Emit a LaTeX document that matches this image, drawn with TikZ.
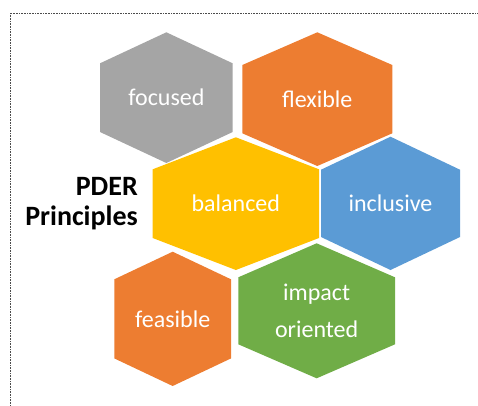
\documentclass[tikz,border=0pt]{standalone}
\usepackage{fontspec}
\setmainfont{Carlito}
\definecolor{hgray}{HTML}{A5A5A5}
\definecolor{horange}{HTML}{ED7D31}
\definecolor{hyellow}{HTML}{FFC000}
\definecolor{hblue}{HTML}{5B9BD5}
\definecolor{hgreen}{HTML}{70AD47}
\newcommand\hexshape[7]{%
  \fill[#2] ({(#3+#4)/2},#5) -- (#4,#5+#7) -- (#4,#6-#7) -- ({(#3+#4)/2},#6)
    -- (#3,#6-#7) -- (#3,#5+#7) -- cycle;
  \coordinate (#1) at ({(#3+#4)/2},{(#5+#6)/2});}
\begin{document}
\begin{tikzpicture}[x=1pt,y=-1pt,
  lbl/.style={text=white,font=\fontsize{24}{37}\selectfont,align=center,inner sep=0pt},
  frame/.style={densely dotted,draw=black!70,line width=0.6pt}]
\useasboundingbox (0,0) rectangle (478,405);
\clip (0,0) rectangle (478,405);
\draw[frame] (10.5,13) rectangle (520,440);
\hexshape{hfoc}{hgray}{100}{232.7}{32.3}{163}{31}
\hexshape{hflex}{horange}{242.3}{392.3}{32.3}{166}{32.7}
\hexshape{hbal}{hyellow}{152.7}{319}{137.3}{270}{32}
\hexshape{hinc}{hblue}{321}{460}{136.7}{270}{33}
\hexshape{hfea}{horange}{114.3}{231}{251.7}{386}{27.6}
\hexshape{himp}{hgreen}{238.3}{395}{243.3}{378.3}{34}
\node[lbl] (tfoc) at (hfoc) {focused};
\node[lbl] (tflex) at (hflex) {flexible};
\node[lbl] (tbal) at (hbal) {balanced};
\node[lbl] (tinc) at (hinc) {inclusive};
\node[lbl] (tfea) at (hfea) {feasible};
\node[lbl] (timp) at (himp) {impact\\oriented};
\node[font=\bfseries\fontsize{28}{30.7}\selectfont,align=right,anchor=east,inner sep=0pt] (title) at (138,203.5) {PDER\\Principles};
\end{tikzpicture}
\end{document}
